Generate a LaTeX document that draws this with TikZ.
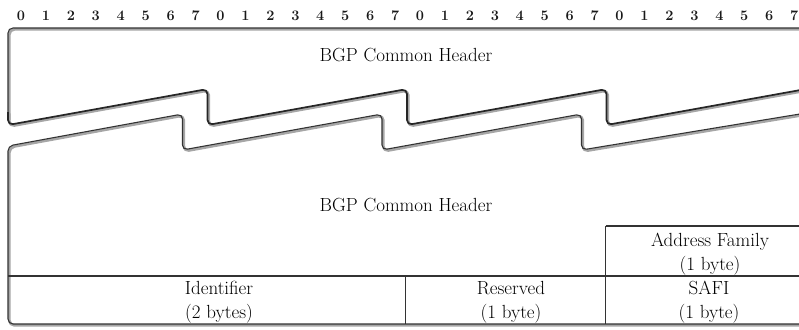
\documentclass[tikz,border=0pt]{standalone}
\begin{document}
\begin{tikzpicture}[x=1pt,y=-1pt,line join=round,
  frame/.style={draw=black!80,line width=1.1pt},
  cut/.style={draw=black!85,line width=1.7pt},
  shadowed/.style={preaction={draw=black!35,line width=2.6pt,
      transform canvas={xshift=1.4pt,yshift=-1.4pt}}},
  txt/.style={font=\fontsize{19}{24}\selectfont,anchor=base,text=black,inner sep=0pt},
  bit/.style={font=\fontsize{14.5}{16}\selectfont\bfseries,anchor=base,text=black!90,inner sep=0pt}]
  \useasboundingbox (0,0) rectangle (799,329);
  \clip (0,0) rectangle (799,329);
  % bit numbers
  \foreach \i in {0,...,31}{
    \pgfmathtruncatemacro\b{mod(\i,8)}
    \node[bit] (bit\i) at (21+24.94*\i,21) {\b};
  }
  % upper part, cut off by the zigzag
  \draw[frame,shadowed] (806,28) -- (13,28) to[out=180,in=90] (8,33) -- (8,119);
  \draw[cut,shadowed,rounded corners=5pt] (8,112) -- (8,125) -- (207.5,89) -- (207.5,125)
    -- (407,89) -- (407,125) -- (606.5,89) -- (606.5,125) -- (806,89);
  % lower part
  \draw[frame,shadowed,rounded corners=5pt] (806,113) -- (581.5,150) -- (581.5,114)
    -- (382,150) -- (382,114) -- (182.5,150) -- (182.5,114) -- (8,146) -- (8,324) -- (806,324);
  \draw[frame] (8,276) -- (806,276);
  \draw[frame] (605.5,226) -- (806,226);
  \draw[frame] (605.5,226) -- (605.5,324);
  \draw[frame] (405.5,276) -- (405.5,324);
  % labels
  \node[txt] (hdr1) at (406,61) {BGP Common Header};
  \node[txt] (hdr2) at (406,211) {BGP Common Header};
  \node[txt] (af) at (710,246) {Address Family};
  \node[txt] (afsz) at (710,270) {(1 byte)};
  \node[txt] (id) at (219,294) {Identifier};
  \node[txt] (idsz) at (219,318) {(2 bytes)};
  \node[txt] (res) at (511,294) {Reserved};
  \node[txt] (ressz) at (511,318) {(1 byte)};
  \node[txt] (safi) at (709,294) {SAFI};
  \node[txt] (safisz) at (709,318) {(1 byte)};
\end{tikzpicture}
\end{document}
